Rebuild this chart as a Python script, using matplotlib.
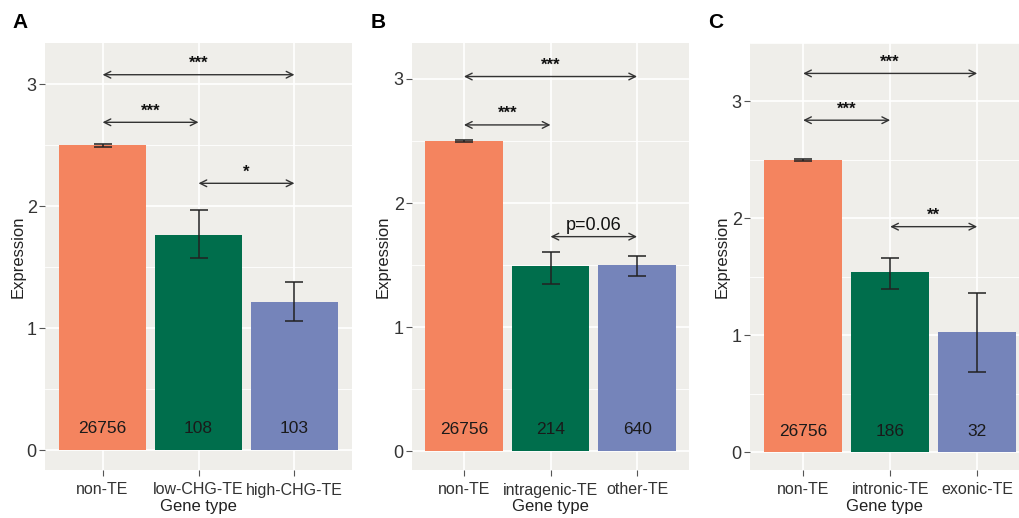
import matplotlib
matplotlib.use('Agg')
from matplotlib import pyplot as plt

plt.rcParams['font.family'] = ['Liberation Sans', 'DejaVu Sans']

# bar colours (same order in every panel)
bar_colors = ['#F4845F', '#006E4C', '#7584BA']

# panel A
a_types = ['non-TE', 'low-CHG-TE', 'high-CHG-TE']
a_mean = [2.50, 1.77, 1.22]
a_err_lo = [2.49, 1.58, 1.06]
a_err_hi = [2.51, 1.97, 1.38]
a_counts = ['26756', '108', '103']
a_sig = [(0, 2, 3.08, '***'), (0, 1, 2.69, '***'), (1, 2, 2.19, '*')]

# panel B
b_types = ['non-TE', 'intragenic-TE', 'other-TE']
b_mean = [2.50, 1.49, 1.50]
b_err_lo = [2.49, 1.35, 1.41]
b_err_hi = [2.51, 1.61, 1.57]
b_counts = ['26756', '214', '640']
b_sig = [(0, 2, 3.02, '***'), (0, 1, 2.63, '***'), (1, 2, 1.73, 'p=0.06')]

# panel C
c_types = ['non-TE', 'intronic-TE', 'exonic-TE']
c_mean = [2.50, 1.54, 1.03]
c_err_lo = [2.49, 1.40, 0.69]
c_err_hi = [2.51, 1.66, 1.36]
c_counts = ['26756', '186', '32']
c_sig = [(0, 2, 3.24, '***'), (0, 1, 2.84, '***'), (1, 2, 1.93, '**')]

panels = [
    ('A', a_types, a_mean, a_err_lo, a_err_hi, a_counts, a_sig,
     [45, 352], (-0.6, 2.6), (-0.16, 3.34), 20, 18),
    ('B', b_types, b_mean, b_err_lo, b_err_hi, b_counts, b_sig,
     [412, 689], (-0.6, 2.6), (-0.15, 3.29), 378, 383),
    ('C', c_types, c_mean, c_err_lo, c_err_hi, c_counts, c_sig,
     [750, 1019], (-0.61, 2.48), (-0.15, 3.50), 716, 722),
]

W, H = 1019, 518
fig = plt.figure(figsize=(W / 100, H / 100), dpi=100)

for letter, types, mean, lo, hi, counts, sig, xpix, xlim, ylim, lx, ylx in panels:
    top, bottom = 43, 470
    ax = fig.add_axes([xpix[0] / W, 1 - bottom / H,
                       (xpix[1] - xpix[0]) / W, (bottom - top) / H])
    ax.set_facecolor('#EFEEEA')
    x = list(range(len(types)))

    # grid like ggplot
    for v in [0.5, 1.5, 2.5, 3.5]:
        ax.axhline(v, color='white', lw=0.6, zorder=0)
    for v in [0, 1, 2, 3]:
        ax.axhline(v, color='white', lw=1.2, zorder=0)
    for v in x:
        ax.axvline(v, color='white', lw=1.2, zorder=0)

    ax.bar(x, mean, width=0.9, color=bar_colors, zorder=2)
    yerr = [[m - l for m, l in zip(mean, lo)], [h - m for m, h in zip(mean, hi)]]
    ax.errorbar(x, mean, yerr=yerr, fmt='none', ecolor='#222222',
                elinewidth=1.1, capsize=6.5, capthick=1.1, zorder=3)

    for xi, c in zip(x, counts):
        ax.text(xi, 0.18, c, ha='center', va='center', fontsize=12.5,
                color='#1a1a1a', zorder=4)

    for i, j, yv, lab in sig:
        ax.annotate('', xy=(j, yv), xytext=(i, yv),
                    arrowprops=dict(arrowstyle='<->', color='#333333',
                                    lw=1.0, mutation_scale=12,
                                    shrinkA=0, shrinkB=0), zorder=4)
        if lab.startswith('p'):
            ax.text((i + j) / 2, yv + 0.025, lab, ha='center', va='bottom',
                    fontsize=13, color='#111111')
        else:
            ax.text((i + j) / 2, yv + 0.03, lab, ha='center', va='bottom',
                    fontsize=12, fontweight='bold', color='#111111')

    ax.set_xlim(xlim)
    ax.set_ylim(ylim)
    ax.set_xticks(x)
    ax.set_xticklabels(types)
    ax.set_yticks([0, 1, 2, 3])
    ax.tick_params(axis='both', colors='#555555', labelcolor='#333333',
                   length=4, width=0.8)
    ax.tick_params(axis='x', labelsize=11.5, pad=5)
    ax.tick_params(axis='y', labelsize=13, pad=2)
    for s in ax.spines.values():
        s.set_visible(False)
    ax.set_xlabel('Gene type', fontsize=12, color='#222222', va='center')
    ax.xaxis.set_label_coords(0.5, (bottom - 507) / (bottom - top))
    ax.set_ylabel('Expression', fontsize=12, color='#222222', va='center')
    ax.yaxis.set_label_coords((ylx - xpix[0]) / (xpix[1] - xpix[0]), 0.5)

    fig.text(lx / W, 1 - 22 / H, letter, fontsize=15, fontweight='bold',
             ha='center', va='center')

fig.savefig('out.png', dpi=100)
